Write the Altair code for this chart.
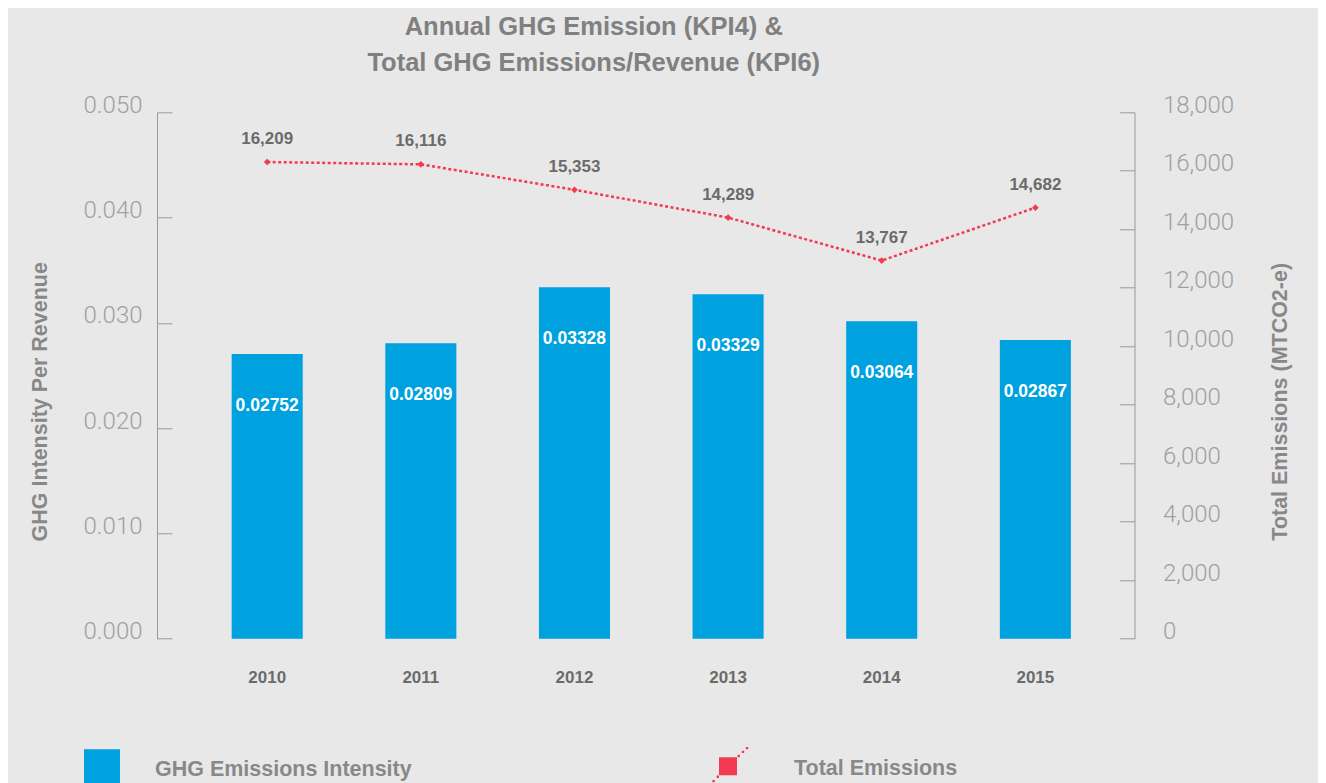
import altair as alt
import pandas as pd

# ---- data ----
years = ["2010", "2011", "2012", "2013", "2014", "2015"]
intensity = [0.02703, 0.02807, 0.03339, 0.03272, 0.03016, 0.02836]
intensity_labels = ["0.02752", "0.02809", "0.03328", "0.03329", "0.03064", "0.02867"]
emissions = [16300, 16220, 15350, 14400, 12930, 14740]
emission_labels = ["16,209", "16,116", "15,353", "14,289", "13,767", "14,682"]
left_ticks = [0, 0.01, 0.02, 0.03, 0.04, 0.05]
right_ticks = [0, 2000, 4000, 6000, 8000, 10000, 12000, 14000, 16000, 18000]
series_bar = "GHG Emissions Intensity"
series_line = "Total Emissions"

df = pd.DataFrame({
    "year": years,
    "intensity": intensity,
    "intensity_label": intensity_labels,
    "emissions": emissions,
    "emission_label": emission_labels,
    "s_bar": series_bar,
    "s_line": series_line,
})

BG = "#e8e8e8"
BLUE = "#00a1df"
RED = "#f23a52"
AXIS_GRAY = "#9a9a9a"
LABEL_GRAY = "#6b6b6b"
TITLE_GRAY = "#808080"
FONT = "Liberation Sans"
LEG_SHIFT = 3.0  # symbols drawn this many px above the label's centre line


# legend symbol for the bar series: square, nudged up
def _bar_path():
    u = 18.0
    s = LEG_SHIFT / u
    return "M-1,%.4fH1V%.4fH-1Z" % (-1 - s, 1 - s)


# legend symbol for the line series: a square crossed by a dotted diagonal
def _line_path():
    u = 19.0
    s = LEG_SHIFT
    parts = ["M-0.474,%.4fH0.474V%.4fH-0.474Z" % ((-9 - s) / u, (9 - s) / u)]
    for dx, dy in [(10.7, -10.3), (15.0, -14.4), (19.0, -18.2),
                   (-10.2, 10.5), (-14.4, 14.8), (-18.6, 19.0)]:
        h = 1.2
        parts.append("M%.3f,%.3fh%.3fv%.3fh%.3fZ" % (
            (dx - h) / u, (dy - s - h) / u, 2 * h / u, 2 * h / u, -2 * h / u))
    return "".join(parts)


x_enc = alt.X(
    "year:N",
    sort=years,
    scale=alt.Scale(paddingInner=0.5375, paddingOuter=0.45, align=0.54),
    axis=alt.Axis(
        title=None, domain=False, ticks=False, labelAngle=0,
        labelFont=FONT, labelFontWeight="bold", labelFontSize=17,
        labelColor=LABEL_GRAY, labelPadding=39, labelBaseline="middle",
    ),
)

y_left = alt.Y(
    "intensity:Q",
    scale=alt.Scale(domain=[0, 0.05], nice=False, zero=True),
    axis=alt.Axis(
        orient="left", values=left_ticks, format=".3f",
        title="GHG Intensity Per Revenue",
        domainColor=AXIS_GRAY, domainWidth=1, ticks=False, tickSize=0,
        grid=True, gridDash=[15, 3000], gridColor=AXIS_GRAY, gridWidth=1, gridOpacity=1,
        labelFont="Roboto", labelFontWeight=300, labelFontSize=24,
        labelColor="#a0a0a0", labelPadding=15, labelOffset=-7, labelFlush=False,
        titleFont=FONT, titleFontWeight="bold", titleFontSize=21.5, titleColor="#888888",
        titleAngle=270, titleX=-117, titleY=289, titleAlign="center", titleBaseline="middle",
    ),
)

y_right = alt.Y(
    "emissions:Q",
    scale=alt.Scale(domain=[0, 18000], nice=False, zero=True),
    axis=alt.Axis(
        orient="right", values=right_ticks, format=",.0f",
        title="Total Emissions (MTCO2-e)",
        domainColor=AXIS_GRAY, domainWidth=1, ticks=False, tickSize=0,
        grid=True, gridDash=[15, 3000], gridColor=AXIS_GRAY, gridWidth=1, gridOpacity=1,
        labelFont="Roboto", labelFontWeight=300, labelFontSize=24,
        labelColor="#a0a0a0", labelPadding=28, labelOffset=-7, labelFlush=False,
        titleFont=FONT, titleFontWeight="bold", titleFontSize=21.5, titleColor="#888888",
        titleAngle=270, titleX=146, titleY=289, titleAlign="center", titleBaseline="middle",
    ),
)

base = alt.Chart(df)

bars = base.mark_bar(clip=False).encode(
    x=x_enc,
    y=y_left,
    color=alt.Color(
        "s_bar:N",
        scale=alt.Scale(domain=[series_bar], range=[BLUE]),
        legend=alt.Legend(
            title=None, orient="none", legendX=-73, legendY=637 + LEG_SHIFT,
            symbolType=_bar_path(), symbolSize=1296, symbolStrokeWidth=0,
            symbolFillColor=BLUE,
            labelFont=FONT, labelFontWeight="bold", labelFontSize=21.5,
            labelColor="#888888", labelOffset=35, labelLimit=500, padding=0,
        ),
    ),
)

bar_text = base.mark_text(
    font=FONT, fontWeight="bold", fontSize=17.5, color="white",
    baseline="middle", dy=52,
).encode(x=x_enc, y=alt.Y("intensity:Q"), text="intensity_label:N")

line = base.mark_line(
    color=RED, strokeWidth=2.5, strokeDash=[3, 2.5],
).encode(x=x_enc, y=y_right)

points = base.mark_point(filled=True, shape="diamond", size=45, opacity=1).encode(
    x=x_enc,
    y=alt.Y("emissions:Q"),
    color=alt.Color(
        "s_line:N",
        scale=alt.Scale(domain=[series_line], range=[RED]),
        legend=alt.Legend(
            title=None, orient="none", legendX=552, legendY=635 + LEG_SHIFT,
            symbolType=_line_path(), symbolSize=1444, symbolStrokeWidth=0,
            symbolFillColor=RED,
            labelFont=FONT, labelFontWeight="bold", labelFontSize=21.5,
            labelColor="#888888", labelOffset=47, labelLimit=500, padding=0,
        ),
    ),
)

line_text = base.mark_text(
    font=FONT, fontWeight="bold", fontSize=17, color=LABEL_GRAY,
    baseline="middle", dy=-23,
).encode(x=x_enc, y=alt.Y("emissions:Q"), text="emission_label:N")

left = alt.layer(bars, bar_text)
right = alt.layer(line, points, line_text)

chart = (
    alt.layer(left, right)
    .resolve_scale(y="independent", color="independent")
    .properties(
        width=977.5,
        height=526.4,
        title=alt.TitleParams(
            text=["Annual GHG Emission (KPI4) &", "Total GHG Emissions/Revenue (KPI6)"],
            font=FONT, fontWeight="bold", fontSize=25.5, lineHeight=36,
            color=TITLE_GRAY, anchor="middle", dx=-52, offset=17,
        ),
        autosize=alt.AutoSizeParams(type="none"),
        padding={"left": 149, "top": 104.3, "right": 183, "bottom": 144},
    )
    .configure(background=BG)
    .configure_view(stroke=None)
    .configure_axisX(grid=False)
)

chart.save("out.html", embed_options={"renderer": "svg", "actions": False})
